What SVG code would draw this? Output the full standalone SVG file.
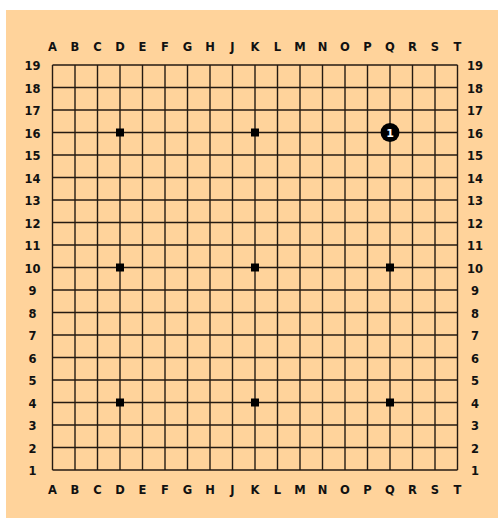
<svg xmlns="http://www.w3.org/2000/svg" width="498" height="518" viewBox="0 0 498 518">
<style>
.lbl{font-family:"DejaVu Sans",sans-serif;font-weight:bold;font-size:11.5px;fill:#111;text-anchor:middle}
.grid line{stroke:#241a12;stroke-width:1.4}
.hoshi{fill:#000}
</style>
<rect x="0" y="0" width="498" height="518" fill="#ffffff"/>
<rect x="6" y="10" width="492" height="508" fill="#ffd39b"/>
<g id="connectors" class="grid">
<line x1="52.5" y1="65" x2="457.5" y2="65"/><line x1="52.5" y1="87.5" x2="457.5" y2="87.5"/><line x1="52.5" y1="110" x2="457.5" y2="110"/><line x1="52.5" y1="132.5" x2="457.5" y2="132.5"/><line x1="52.5" y1="155" x2="457.5" y2="155"/><line x1="52.5" y1="177.5" x2="457.5" y2="177.5"/><line x1="52.5" y1="200" x2="457.5" y2="200"/><line x1="52.5" y1="222.5" x2="457.5" y2="222.5"/><line x1="52.5" y1="245" x2="457.5" y2="245"/><line x1="52.5" y1="267.5" x2="457.5" y2="267.5"/><line x1="52.5" y1="290" x2="457.5" y2="290"/><line x1="52.5" y1="312.5" x2="457.5" y2="312.5"/><line x1="52.5" y1="335" x2="457.5" y2="335"/><line x1="52.5" y1="357.5" x2="457.5" y2="357.5"/><line x1="52.5" y1="380" x2="457.5" y2="380"/><line x1="52.5" y1="402.5" x2="457.5" y2="402.5"/><line x1="52.5" y1="425" x2="457.5" y2="425"/><line x1="52.5" y1="447.5" x2="457.5" y2="447.5"/><line x1="52.5" y1="470" x2="457.5" y2="470"/>
<line x1="52.5" y1="65" x2="52.5" y2="470"/><line x1="75" y1="65" x2="75" y2="470"/><line x1="97.5" y1="65" x2="97.5" y2="470"/><line x1="120" y1="65" x2="120" y2="470"/><line x1="142.5" y1="65" x2="142.5" y2="470"/><line x1="165" y1="65" x2="165" y2="470"/><line x1="187.5" y1="65" x2="187.5" y2="470"/><line x1="210" y1="65" x2="210" y2="470"/><line x1="232.5" y1="65" x2="232.5" y2="470"/><line x1="255" y1="65" x2="255" y2="470"/><line x1="277.5" y1="65" x2="277.5" y2="470"/><line x1="300" y1="65" x2="300" y2="470"/><line x1="322.5" y1="65" x2="322.5" y2="470"/><line x1="345" y1="65" x2="345" y2="470"/><line x1="367.5" y1="65" x2="367.5" y2="470"/><line x1="390" y1="65" x2="390" y2="470"/><line x1="412.5" y1="65" x2="412.5" y2="470"/><line x1="435" y1="65" x2="435" y2="470"/><line x1="457.5" y1="65" x2="457.5" y2="470"/>
</g>
<g id="hoshi">
<rect class="hoshi" x="116" y="128.5" width="8" height="8"/>
<rect class="hoshi" x="251" y="128.5" width="8" height="8"/>
<rect class="hoshi" x="116" y="263.5" width="8" height="8"/>
<rect class="hoshi" x="251" y="263.5" width="8" height="8"/>
<rect class="hoshi" x="386" y="263.5" width="8" height="8"/>
<rect class="hoshi" x="116" y="398.5" width="8" height="8"/>
<rect class="hoshi" x="251" y="398.5" width="8" height="8"/>
<rect class="hoshi" x="386" y="398.5" width="8" height="8"/>
</g>
<g id="stone-1">
<circle cx="390" cy="132.5" r="9.5" fill="#000"/>
<text x="390" y="136.8" font-family="DejaVu Sans,sans-serif" font-weight="bold" font-size="11px" fill="#fff" text-anchor="middle">1</text>
</g>
<g id="labels-top">
<text class="lbl" x="52.5" y="51">A</text><text class="lbl" x="75" y="51">B</text><text class="lbl" x="97.5" y="51">C</text><text class="lbl" x="120" y="51">D</text><text class="lbl" x="142.5" y="51">E</text><text class="lbl" x="165" y="51">F</text><text class="lbl" x="187.5" y="51">G</text><text class="lbl" x="210" y="51">H</text><text class="lbl" x="232.5" y="51">J</text><text class="lbl" x="255" y="51">K</text><text class="lbl" x="277.5" y="51">L</text><text class="lbl" x="300" y="51">M</text><text class="lbl" x="322.5" y="51">N</text><text class="lbl" x="345" y="51">O</text><text class="lbl" x="367.5" y="51">P</text><text class="lbl" x="390" y="51">Q</text><text class="lbl" x="412.5" y="51">R</text><text class="lbl" x="435" y="51">S</text><text class="lbl" x="457.5" y="51">T</text>
</g>
<g id="labels-bottom">
<text class="lbl" x="52.5" y="494">A</text><text class="lbl" x="75" y="494">B</text><text class="lbl" x="97.5" y="494">C</text><text class="lbl" x="120" y="494">D</text><text class="lbl" x="142.5" y="494">E</text><text class="lbl" x="165" y="494">F</text><text class="lbl" x="187.5" y="494">G</text><text class="lbl" x="210" y="494">H</text><text class="lbl" x="232.5" y="494">J</text><text class="lbl" x="255" y="494">K</text><text class="lbl" x="277.5" y="494">L</text><text class="lbl" x="300" y="494">M</text><text class="lbl" x="322.5" y="494">N</text><text class="lbl" x="345" y="494">O</text><text class="lbl" x="367.5" y="494">P</text><text class="lbl" x="390" y="494">Q</text><text class="lbl" x="412.5" y="494">R</text><text class="lbl" x="435" y="494">S</text><text class="lbl" x="457.5" y="494">T</text>
</g>
<g id="labels-left">
<text class="lbl" x="32.5" y="70">19</text><text class="lbl" x="32.5" y="92.5">18</text><text class="lbl" x="32.5" y="115">17</text><text class="lbl" x="32.5" y="137.5">16</text><text class="lbl" x="32.5" y="160">15</text><text class="lbl" x="32.5" y="182.5">14</text><text class="lbl" x="32.5" y="205">13</text><text class="lbl" x="32.5" y="227.5">12</text><text class="lbl" x="32.5" y="250">11</text><text class="lbl" x="32.5" y="272.5">10</text><text class="lbl" x="32.5" y="295">9</text><text class="lbl" x="32.5" y="317.5">8</text><text class="lbl" x="32.5" y="340">7</text><text class="lbl" x="32.5" y="362.5">6</text><text class="lbl" x="32.5" y="385">5</text><text class="lbl" x="32.5" y="407.5">4</text><text class="lbl" x="32.5" y="430">3</text><text class="lbl" x="32.5" y="452.5">2</text><text class="lbl" x="32.5" y="475">1</text>
</g>
<g id="labels-right">
<text class="lbl" x="475" y="70">19</text><text class="lbl" x="475" y="92.5">18</text><text class="lbl" x="475" y="115">17</text><text class="lbl" x="475" y="137.5">16</text><text class="lbl" x="475" y="160">15</text><text class="lbl" x="475" y="182.5">14</text><text class="lbl" x="475" y="205">13</text><text class="lbl" x="475" y="227.5">12</text><text class="lbl" x="475" y="250">11</text><text class="lbl" x="475" y="272.5">10</text><text class="lbl" x="475" y="295">9</text><text class="lbl" x="475" y="317.5">8</text><text class="lbl" x="475" y="340">7</text><text class="lbl" x="475" y="362.5">6</text><text class="lbl" x="475" y="385">5</text><text class="lbl" x="475" y="407.5">4</text><text class="lbl" x="475" y="430">3</text><text class="lbl" x="475" y="452.5">2</text><text class="lbl" x="475" y="475">1</text>
</g>
</svg>
